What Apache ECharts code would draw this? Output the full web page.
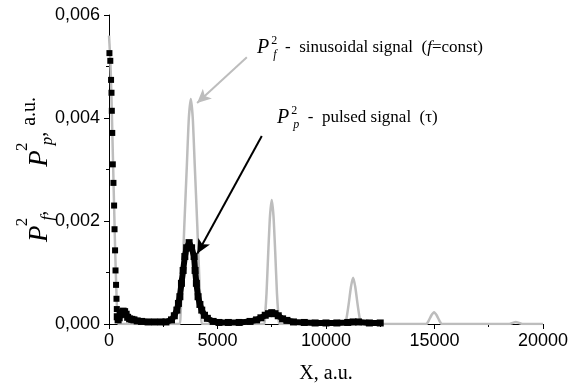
<!DOCTYPE html>
<html>
<head>
<meta charset="utf-8">
<script src="https://cdn.jsdelivr.net/npm/echarts@6/dist/echarts.min.js"></script>
<style>
  html, body { margin: 0; padding: 0; background: #fff; }
  #chart { width: 571px; height: 392px; }
</style>
</head>
<body>
<div id="chart"></div>
<script>
// sinusoidal signal P_f^2 (grey line)
const sineX = [0, 40, 80, 120, 160, 200, 240, 280, 320, 360, 400, 450,
  3250, 3300, 3370, 3470, 3590, 3680, 3770, 3860, 3950, 4070, 4170, 4240, 4290,
  7150, 7200, 7260, 7340, 7420, 7500, 7580, 7660, 7740, 7800, 7850,
  10880, 10950, 11050, 11150, 11250, 11350, 11450, 11550, 11620,
  14620, 14740, 14860, 14980, 15100, 15220, 15340,
  18450, 18600, 18750, 18900, 19050, 20000];
const sineY = [0.0056, 0.0053, 0.0049, 0.0043, 0.0036, 0.0029, 0.0022, 0.0015, 0.0009, 0.0004, 0.0001, 0,
  0, 0.0002, 0.0008, 0.0019, 0.0031, 0.0040, 0.00437, 0.0040, 0.0031, 0.0019, 0.0008, 0.0002, 0,
  0, 0.0002, 0.0006, 0.0014, 0.0021, 0.00241, 0.0021, 0.0014, 0.0006, 0.0002, 0,
  0, 0.00012, 0.0004, 0.00072, 0.0009, 0.00072, 0.0004, 0.00012, 0,
  0, 0.00007, 0.00017, 0.00023, 0.00017, 0.00007, 0,
  0, 0.00002, 0.00004, 0.00002, 0, 0];

// pulsed signal P_p^2, first fast decay (separate squares)
const decayX = [20, 60, 95, 115, 130, 150, 175, 205, 235, 255, 280, 300, 325, 345, 360, 380];
const decayY = [0.00526, 0.00511, 0.00474, 0.00449, 0.00414, 0.00371, 0.0031, 0.00274,
  0.0023, 0.00184, 0.00143, 0.00104, 0.00076, 0.00049, 0.00029, 0.00014];

// pulsed signal P_p^2, rest of the curve
const pulsedX = [380, 420, 470, 520, 580, 650, 720, 790, 860, 950,
  1050, 1150, 1300, 1500, 1800, 2100, 2400, 2624, 2881, 3010,
  3128, 3200, 3266, 3339, 3417, 3495, 3578, 3692, 3807, 3922,
  3968, 4027, 4105, 4190, 4275, 4400, 4532, 4800, 5069, 5500,
  6000, 6500, 6800, 7000, 7200, 7350, 7500, 7650, 7800, 8000,
  8200, 8500, 9000, 9500, 10000, 10500, 11000, 11250, 11500, 12000,
  12500];
const pulsedY = [0.00014, 0.00008, 0.00012, 0.00018, 0.00022, 0.00025, 0.00024, 0.00019, 0.00013, 0.0001,
  0.00009, 0.00008, 0.00006, 0.00005, 0.00004, 0.00004, 0.00004, 0.00004, 0.00008, 0.00016,
  0.00027, 0.0004, 0.00053, 0.00079, 0.00104, 0.00131, 0.00148, 0.00158, 0.00148, 0.00131,
  0.00104, 0.00079, 0.00053, 0.00038, 0.00027, 0.00017, 0.00011, 0.00005, 0.00003, 0.00003,
  0.00003, 0.00005, 0.00008, 0.00012, 0.00017, 0.0002, 0.00022, 0.0002, 0.00016, 0.0001,
  0.00007, 0.00004, 0.00003, 0.00002, 0.00002, 0.00002, 0.00003, 0.00004, 0.00004, 0.00002,
  0.00002];

const yTickLabels = ['0,000', '0,002', '0,004', '0,006'];
const xTickLabels = ['0', '5000', '10000', '15000', '20000'];

// arrow annotations, [from, to] in data units
const sineArrow = [[6353, 0.00518], [4060, 0.00429]];
const pulsedArrow = [[7041, 0.00365], [4073, 0.00137]];

const zip = (xs, ys) => xs.map((x, i) => [x, ys[i]]);

const serif = '"Liberation Serif", "Times New Roman", serif';
const sans = '"Liberation Sans", Arial, sans-serif';

const supSub = {
  P: {fontFamily: serif, fontStyle: 'italic', fontSize: 20, lineHeight: 30, verticalAlign: 'middle'},
  sup: {fontFamily: serif, fontSize: 12, lineHeight: 12, verticalAlign: 'top', width: 1, padding: [2, 0, 0, 2]},
  sub: {fontFamily: serif, fontStyle: 'italic', fontSize: 12, lineHeight: 12, verticalAlign: 'bottom', padding: [0, 0, 2, 1]},
  t: {fontFamily: serif, fontSize: 17, lineHeight: 30, verticalAlign: 'middle'},
  it: {fontFamily: serif, fontStyle: 'italic', fontSize: 17, lineHeight: 30, verticalAlign: 'middle'}
};

const chart = echarts.init(document.getElementById('chart'));

chart.setOption({
  animation: false,
  grid: {left: 109, right: 26, top: 15, bottom: 68},
  xAxis: {
    type: 'value',
    min: 0, max: 20000, interval: 5000,
    name: 'X, a.u.',
    nameLocation: 'middle',
    nameGap: 40,
    nameMoveOverlap: false,
    nameTextStyle: {fontFamily: serif, fontSize: 20, color: '#000'},
    axisLine: {lineStyle: {color: '#000', width: 1}},
    axisTick: {length: 5, lineStyle: {color: '#000'}},
    minorTick: {show: true, splitNumber: 2, length: 3, lineStyle: {color: '#000'}},
    splitLine: {show: false},
    axisLabel: {
      color: '#000', fontFamily: sans, fontSize: 18, margin: 8,
      formatter: v => xTickLabels[Math.round(v / 5000)]
    }
  },
  yAxis: {
    type: 'value',
    min: 0, max: 0.006, interval: 0.002,
    name: '{P|P}{sup|2}{sub|f}{c|,}{gap| }{P|P}{sup|2}{sub|p}{c|,}{gap2| }{au|a.u.}',
    nameLocation: 'middle',
    nameGap: 43,
    nameMoveOverlap: false,
    nameTextStyle: {
      color: '#000',
      rich: {
        P: {fontFamily: serif, fontStyle: 'italic', fontSize: 27, lineHeight: 52, verticalAlign: 'middle'},
        sup: {fontFamily: serif, fontSize: 17, lineHeight: 17, verticalAlign: 'top', width: 1, padding: [0, 0, 0, 3]},
        sub: {fontFamily: serif, fontStyle: 'italic', fontSize: 17, lineHeight: 17, verticalAlign: 'bottom', padding: [0, 0, 10, 1]},
        c: {fontFamily: serif, fontSize: 20, lineHeight: 52, verticalAlign: 'middle'},
        gap: {fontSize: 10, width: 44, lineHeight: 52},
        gap2: {fontSize: 10, width: 6, lineHeight: 52},
        au: {fontFamily: serif, fontSize: 20, lineHeight: 52, verticalAlign: 'middle', padding: [0, 0, 20, 0]}
      }
    },
    axisLine: {show: true, lineStyle: {color: '#000', width: 1}},
    axisTick: {show: true, length: 5, lineStyle: {color: '#000'}},
    minorTick: {show: true, splitNumber: 2, length: 3, lineStyle: {color: '#000'}},
    splitLine: {show: false},
    axisLabel: {
      color: '#000', fontFamily: sans, fontSize: 18, margin: 9,
      formatter: v => yTickLabels[Math.round(v / 0.002)]
    }
  },
  series: [
    {
      name: 'sinusoidal',
      type: 'line',
      data: zip(sineX, sineY),
      showSymbol: false,
      smooth: 0.2,
      lineStyle: {color: '#bdbdbd', width: 2.5},
      z: 2,
      markLine: {
        silent: true,
        symbol: ['none', 'arrow'],
        symbolSize: [10, 14],
        label: {show: false},
        lineStyle: {color: '#bdbdbd', width: 2, type: 'solid'},
        data: [[{coord: sineArrow[0]}, {coord: sineArrow[1]}]]
      }
    },
    {
      name: 'pulsed decay',
      type: 'scatter',
      data: zip(decayX, decayY),
      symbol: 'rect',
      symbolSize: 6,
      itemStyle: {color: '#000', opacity: 1},
      z: 3
    },
    {
      name: 'pulsed',
      type: 'line',
      data: zip(pulsedX, pulsedY),
      symbol: 'rect',
      symbolSize: 7,
      showAllSymbol: true,
      itemStyle: {color: '#000', borderWidth: 0},
      lineStyle: {color: '#000', width: 6},
      z: 3,
      markLine: {
        silent: true,
        symbol: ['none', 'arrow'],
        symbolSize: [10, 14],
        label: {show: false},
        lineStyle: {color: '#000', width: 2, type: 'solid'},
        data: [[{coord: pulsedArrow[0]}, {coord: pulsedArrow[1]}]]
      }
    }
  ],
  graphic: [
    {
      type: 'text',
      x: 257, y: 48,
      style: {
        text: '{P|P}{sup|2}{sub|f}{t|  -  sinusoidal signal  (}{it|f}{t|=const)}',
        rich: supSub,
        fill: '#000',
        verticalAlign: 'middle'
      }
    },
    {
      type: 'text',
      x: 277, y: 118,
      style: {
        text: '{P|P}{sup|2}{sub|p}{t|  -  pulsed signal  (τ)}',
        rich: supSub,
        fill: '#000',
        verticalAlign: 'middle'
      }
    }
  ]
});
</script>
</body>
</html>
